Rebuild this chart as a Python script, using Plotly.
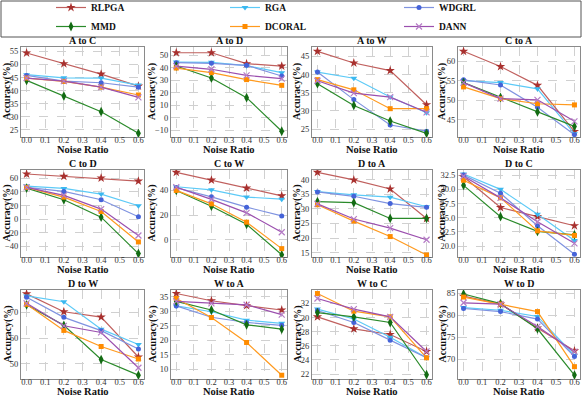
import plotly.graph_objects as go
from plotly.subplots import make_subplots

NOISE = [0.0, 0.2, 0.4, 0.6]
TASKS = ['A to C', 'A to D', 'A to W', 'C to A', 'C to D', 'C to W',
         'D to A', 'D to C', 'D to W', 'W to A', 'W to C', 'W to D']

RLPGA = [[54.4, 50.3, 46.3, 41.7], [52.1, 52.1, 43.3, 41.4], [46.4, 43.2, 41.1, 31.7],
         [62.5, 58.6, 53.8, 42.0], [66.4, 63.0, 60.5, 56.0], [54.7, 48.4, 41.9, 35.6],
         [42.5, 39.9, 36.8, 26.7], [32.2, 26.8, 25.2, 23.6], [77.3, 70.3, 68.2, 52.6],
         [36.1, 33.6, 31.9, 30.4], [30.1, 28.4, 27.6, 25.2], [84.3, 82.5, 77.1, 71.9]]
RGA = [[46.1, 44.9, 44.8, 42.1], [44.6, 44.4, 41.7, 36.1], [40.7, 39.0, 33.8, 29.5],
       [55.0, 54.5, 52.9, 41.4], [48.7, 45.2, 36.8, 19.6], [43.0, 40.5, 34.6, 32.9],
       [35.9, 34.8, 34.0, 30.7], [32.7, 30.0, 25.6, 21.0], [76.5, 74.2, 63.5, 57.5],
       [31.8, 29.8, 26.9, 25.8], [31.2, 29.8, 27.2, 24.3], [81.7, 81.1, 79.7, 70.9]]
WDGRL = [[45.8, 43.6, 43.0, 41.3], [44.1, 43.6, 42.0, 33.4], [40.7, 33.1, 26.1, 24.4],
         [55.2, 53.9, 48.2, 41.2], [46.7, 40.8, 28.5, 3.4], [42.2, 34.8, 26.4, 19.3],
         [35.8, 34.3, 31.8, 30.5], [32.5, 29.3, 23.6, 18.6], [76.0, 68.1, 62.9, 55.7],
         [31.8, 27.9, 26.1, 25.1], [31.0, 29.3, 26.8, 24.3], [81.5, 80.8, 79.1, 70.6]]
MMD = [[43.9, 37.9, 31.9, 23.6], [41.4, 31.8, 16.0, -11.0], [37.5, 31.5, 27.2, 23.8],
       [54.5, 50.7, 47.0, 43.3], [45.7, 28.5, 2.9, -50.8], [40.0, 27.2, 12.5, -12.3],
       [32.5, 32.1, 26.7, 26.7], [30.7, 25.2, 22.6, 22.0], [73.0, 65.0, 51.6, 45.5],
       [33.4, 30.4, 25.3, 23.8], [30.7, 30.1, 29.3, 21.9], [84.8, 82.6, 76.9, 66.4]]
DCORAL = [[44.8, 43.5, 41.3, 38.3], [39.8, 36.1, 30.5, 25.9], [38.6, 35.8, 30.6, 30.6],
          [53.4, 50.4, 49.1, 48.8], [46.7, 32.4, 11.2, -33.6], [40.0, 29.1, 14.2, -7.3],
          [31.4, 25.8, 20.5, 14.2], [31.6, 28.5, 22.7, 21.9], [73.2, 63.0, 56.7, 51.8],
          [34.4, 27.8, 19.2, 7.9], [33.4, 30.9, 30.1, 24.3], [84.1, 82.5, 80.8, 68.3]]
DANN = [[44.8, 43.6, 41.3, 37.4], [41.4, 38.8, 33.9, 31.3], [38.3, 34.9, 33.8, 29.6],
        [54.5, 50.4, 50.1, 44.6], [46.7, 34.9, 14.7, -24.2], [42.7, 32.7, 21.8, 6.0],
        [31.7, 26.5, 23.4, 19.4], [32.3, 28.5, 24.3, 20.5], [73.6, 64.8, 62.2, 48.4],
        [33.4, 32.7, 32.2, 28.8], [32.7, 31.2, 30.1, 25.2], [82.8, 82.5, 77.4, 71.7]]

# name, data, line colour, marker colour, symbol, marker size
methods = [
    ('RLPGA', RLPGA, '#c0605e', '#a8302e', 'star', 7),
    ('RGA', RGA, '#5ccaf7', '#3ab8f0', 'triangle-down', 6),
    ('WDGRL', WDGRL, '#7f93e0', '#4563d8', 'circle', 5),
    ('MMD', MMD, '#2a8a2a', '#136b13', 'diamond-tall', 7),
    ('DCORAL', DCORAL, '#ff9a1f', '#ff8c00', 'square', 5),
    ('DANN', DANN, '#9b4fae', '#b57cc6', 'x-thin-open', 6),
]

y_ranges = [[22.2, 56.7], [-15.6, 56.7], [22.8, 47.6], [40.6, 63.6], [-55.8, 72.3], [-14.1, 56.6],
            [13.5, 43.3], [18.1, 33.4], [44.0, 78.8], [6.6, 37.3], [21.3, 33.9], [65.5, 85.7]]
y_dticks = [5, 10, 5, 5, 20, 20, 5, 2.5, 10, 5, 2, 5]

W, H = 583, 398
col_px = [(21, 144), (171, 287), (312, 432), (458, 580)]
ytitle_off = [14, 19, 15, 16]   # px left of the spine
row_px = [(47, 137), (170, 257), (290, 379)]

FONT = 'Liberation Serif'

fig = make_subplots(rows=3, cols=4)

for i, task in enumerate(TASKS):
    r, c = i // 4 + 1, i % 4 + 1
    for name, data, lc, mc, sym, ms in methods:
        fig.add_trace(go.Scatter(
            x=NOISE, y=data[i], mode='lines+markers', name='<b>' + name + '</b>',
            legendgroup=name, showlegend=(i == 0),
            line=dict(color=lc, width=1.2),
            marker=dict(symbol=sym, size=ms, color=mc,
                        line=dict(color=mc, width=1.2 if sym.startswith('x') else 0)),
        ), row=r, col=c)

    x0, x1 = col_px[c - 1]
    y0, y1 = row_px[r - 1]
    dom_x = [x0 / W, x1 / W]
    dom_y = [1 - y1 / H, 1 - y0 / H]
    fig.update_xaxes(domain=dom_x, range=[-0.03, 0.63], tick0=0, dtick=0.1, tickformat='.1f',
                     showgrid=True, gridcolor='#d0d0d0', griddash='dash', gridwidth=0.8,
                     showline=True, linecolor='#8a8a8a', linewidth=1, mirror=True,
                     zeroline=False, ticks='', ticklabelstandoff=-5,
                     tickfont=dict(family=FONT, size=8.5, color='#333'),
                     automargin=False, row=r, col=c)
    fig.update_yaxes(domain=dom_y, range=y_ranges[i], tick0=0, dtick=y_dticks[i],
                     tickformat='.1f' if i == 7 else None,
                     showgrid=True, gridcolor='#d0d0d0', griddash='dash', gridwidth=0.8,
                     showline=True, linecolor='#8a8a8a', linewidth=1, mirror=True,
                     zeroline=False, ticks='', ticklabelstandoff=0,
                     tickfont=dict(family=FONT, size=8.5, color='#333'),
                     automargin=False, row=r, col=c)
    ax = '' if i == 0 else str(i + 1)
    # panel title
    fig.add_annotation(x=0.5, y=1, xref='x' + ax + ' domain', yref='y' + ax + ' domain',
                       yshift=-1, text='<b>' + task + '</b>', showarrow=False,
                       xanchor='center', yanchor='bottom',
                       font=dict(family=FONT, size=10, color='#111'))
    # x title
    fig.add_annotation(x=0.5, y=0, xref='x' + ax + ' domain', yref='y' + ax + ' domain',
                       yshift=-12, text='<b>Noise Ratio</b>', showarrow=False,
                       xanchor='center', yanchor='middle',
                       font=dict(family=FONT, size=10.5, color='#111'))
    # y title
    fig.add_annotation(x=0, y=0.5, xref='x' + ax + ' domain', yref='y' + ax + ' domain',
                       xshift=-ytitle_off[c - 1], text='<b>Accuracy(%)</b>', showarrow=False,
                       textangle=-90, xanchor='center', yanchor='middle',
                       font=dict(family=FONT, size=10, color='#111'))

# legend frame
fig.add_shape(type='rect', xref='paper', yref='paper',
              x0=1 / W, x1=581 / W, y0=1 - 37 / H, y1=1 - 1 / H,
              line=dict(color='#555', width=1), fillcolor='white', layer='below')

fig.update_layout(
    width=W, height=H,
    margin=dict(l=0, r=0, t=0, b=0, autoexpand=False),
    plot_bgcolor='white', paper_bgcolor='white',
    legend=dict(orientation='h', x=51 / W, y=1 + 7 / H, xanchor='left', yanchor='top',
                entrywidth=129, entrywidthmode='pixels',
                bgcolor='rgba(0,0,0,0)', borderwidth=0,
                font=dict(family=FONT, size=9.5, color='#111'),
                tracegroupgap=0),
    font=dict(family=FONT),
)

fig.write_html('out.html', config={'displayModeBar': False},
               post_script="document.body.style.margin='0px';")
